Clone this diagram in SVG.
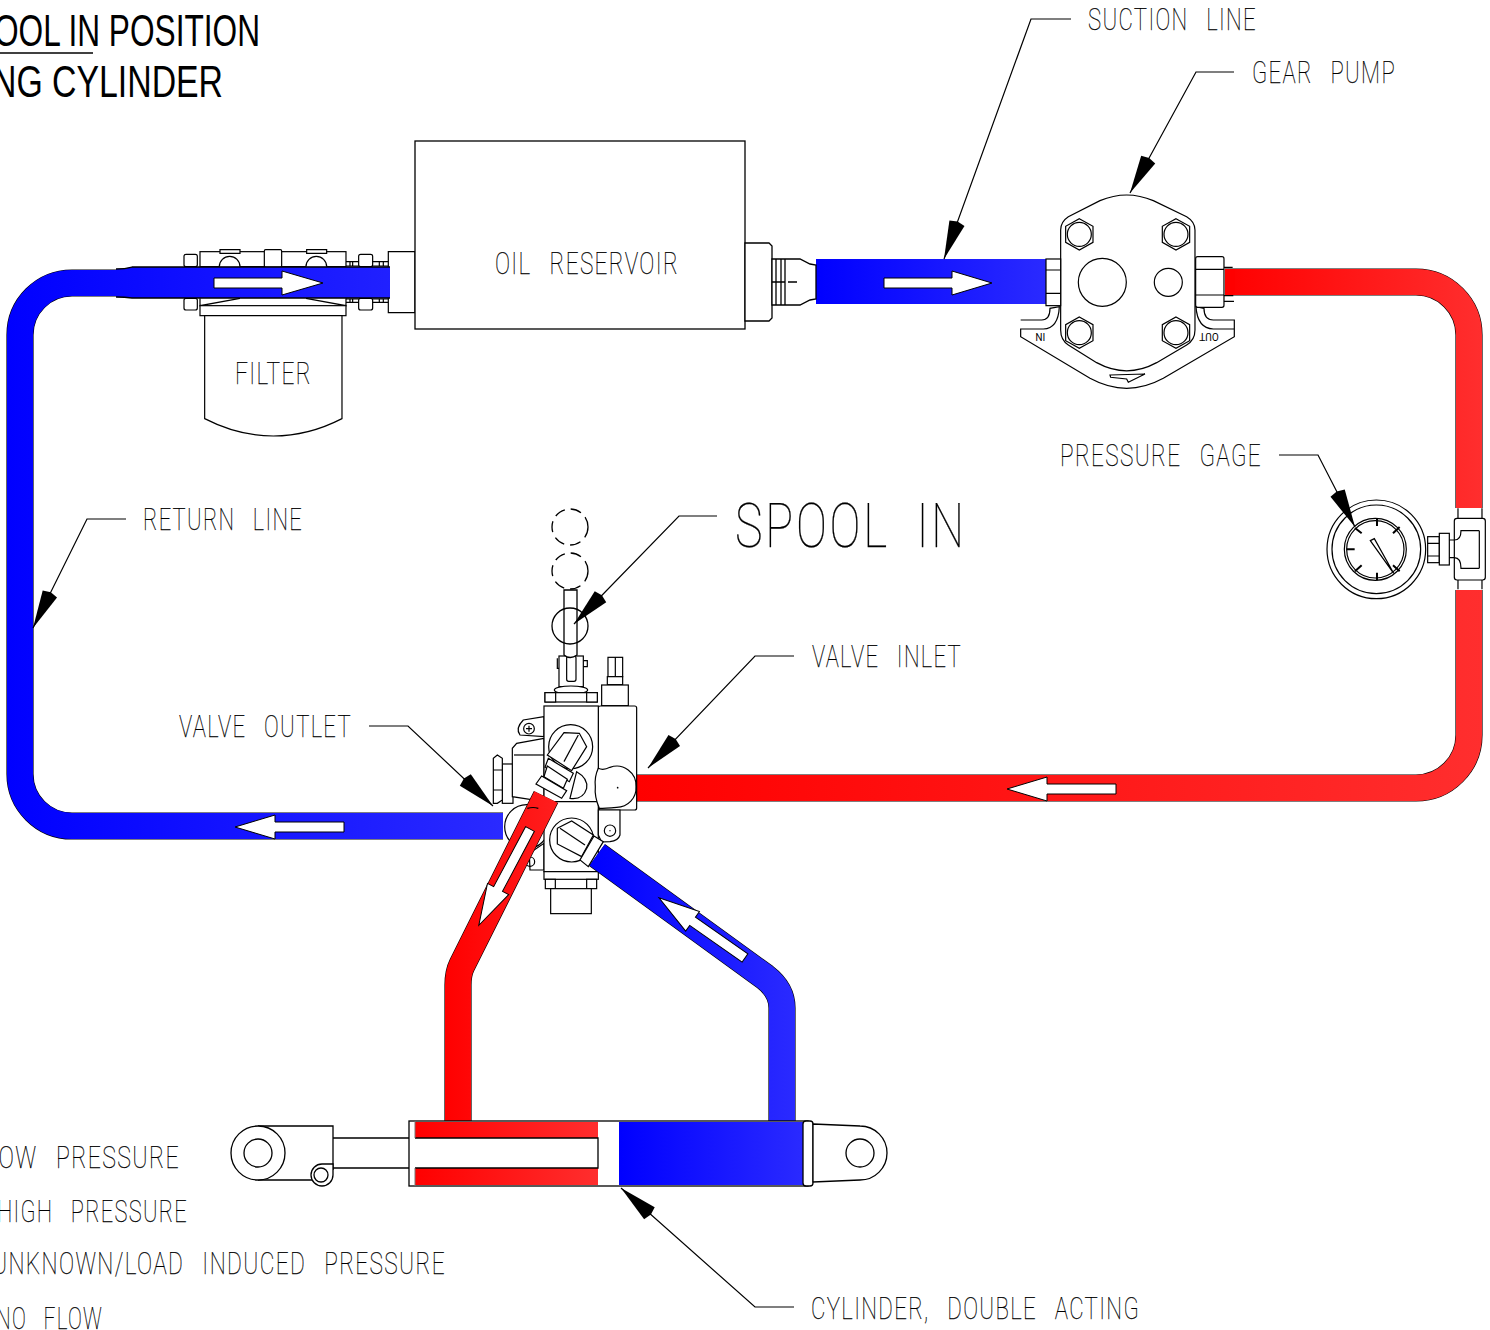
<svg xmlns="http://www.w3.org/2000/svg" width="1490" height="1330" viewBox="0 0 1490 1330">
<style>
text{font-family:"Roboto","Liberation Sans",sans-serif;font-weight:100;fill:#000;stroke:#000;stroke-width:.25}
.l{font-size:31px;letter-spacing:.06em;word-spacing:.5em}
.t{font-family:"Liberation Sans",sans-serif;font-weight:400;font-size:44px;stroke:none}
.s{fill:none;stroke:#000;stroke-width:1.3}
.w{fill:#fff;stroke:#000;stroke-width:1.3}
.z .s,.z .w{stroke-width:3.6}
.lead{fill:none;stroke:#000;stroke-width:1.2;marker-end:url(#ah)}
.fl{fill:#fff;stroke:#000;stroke-width:1}
.po{fill:none;stroke:#000;stroke-width:27.2}
.pb{fill:none;stroke-width:26}
</style>
<defs>
<marker id="ah" markerUnits="userSpaceOnUse" markerWidth="46" markerHeight="20" refX="40" refY="8" orient="auto" overflow="visible"><path d="M2 0L40 8L2 16L0 8Z" fill="#000"/></marker>
<linearGradient id="bR" gradientUnits="userSpaceOnUse" x1="7" y1="0" x2="503" y2="0"><stop offset="0" stop-color="#00f"/><stop offset="1" stop-color="#2a2aff"/></linearGradient>
<linearGradient id="bS" gradientUnits="userSpaceOnUse" x1="816" y1="0" x2="1046" y2="0"><stop offset="0" stop-color="#00f"/><stop offset="1" stop-color="#2a2aff"/></linearGradient>
<linearGradient id="bC" gradientUnits="userSpaceOnUse" x1="619" y1="0" x2="803" y2="0"><stop offset="0" stop-color="#00f"/><stop offset="1" stop-color="#2a2aff"/></linearGradient>
<linearGradient id="bD" gradientUnits="userSpaceOnUse" x1="590" y1="0" x2="795" y2="0"><stop offset="0" stop-color="#00f"/><stop offset="1" stop-color="#2a2aff"/></linearGradient>
<linearGradient id="rT" gradientUnits="userSpaceOnUse" x1="1225" y1="0" x2="1482" y2="0"><stop offset="0" stop-color="#f00"/><stop offset="1" stop-color="#ff2e2e"/></linearGradient>
<linearGradient id="rB" gradientUnits="userSpaceOnUse" x1="637" y1="0" x2="1482" y2="0"><stop offset="0" stop-color="#f00"/><stop offset="1" stop-color="#ff2e2e"/></linearGradient>
<linearGradient id="rC" gradientUnits="userSpaceOnUse" x1="415" y1="0" x2="598" y2="0"><stop offset="0" stop-color="#f00"/><stop offset="1" stop-color="#ff2e2e"/></linearGradient>
<linearGradient id="rD" gradientUnits="userSpaceOnUse" x1="445" y1="0" x2="560" y2="0"><stop offset="0" stop-color="#f00"/><stop offset="1" stop-color="#ff1f1f"/></linearGradient>
<polygon id="hex" points="0,-47 41,-24 41,24 0,47 -41,24 -41,-24"/>
</defs>

<g id="title">
<text class="t" x="-6" y="46" textLength="266" lengthAdjust="spacingAndGlyphs">OOL IN POSITION</text>
<text class="t" x="-8" y="97" textLength="231" lengthAdjust="spacingAndGlyphs">NG CYLINDER</text>
<line class="s" x1="0" y1="53" x2="93" y2="53"/>
</g>

<g id="pipes">
<path class="po" d="M503 826H72A52 52 0 0 1 20 774V335A52 52 0 0 1 72 283H120"/>
<path class="pb" stroke="url(#bR)" d="M503 826H72A52 52 0 0 1 20 774V335A52 52 0 0 1 72 283H122"/>
<rect x="816" y="259" width="230" height="45" fill="url(#bS)"/>
<path class="po" d="M1225 282H1416A53 53 0 0 1 1469 335V508"/>
<path class="pb" stroke="url(#rT)" d="M1225 282H1416A53 53 0 0 1 1469 335V508"/>
<path class="po" d="M1469 590V735A53 53 0 0 1 1416 788H637"/>
<path class="pb" stroke="url(#rB)" d="M1469 590V735A53 53 0 0 1 1416 788H637"/>
</g>

<g id="filter" class="z" transform="translate(170 235) scale(.3333)">
<rect class="w" x="42" y="58" width="40" height="37" rx="6"/>
<rect class="w" x="42" y="190" width="40" height="35" rx="6"/>
<rect class="w" x="90" y="50" width="438" height="45"/>
<rect class="w" x="283" y="44" width="52" height="52" rx="4"/>
<path class="w" d="M148 95A31 31 0 0 1 210 95"/>
<path class="w" d="M408 95A31 31 0 0 1 470 95"/>
<path class="w" d="M150 44H210V55H150Z"/>
<path class="w" d="M410 44H470V55H410Z"/>
<rect class="w" x="566" y="58" width="42" height="37" rx="6"/>
<rect class="w" x="566" y="190" width="42" height="35" rx="6"/>
<path class="s" d="M528 80H566M528 93H566M608 80H655M608 93H655M528 192H566M528 202H566M608 192H655M608 202H655M540 80V93M548 80V93M628 80V93M640 80V93M540 192V202M548 192V202M628 192V202M640 192V202"/>
<path class="s" d="M90 190V212L210 190M528 190V212L408 190"/>
<rect class="w" x="90" y="212" width="438" height="30"/>
<path class="w" d="M104 242H516V551Q415 603 310 603T104 551Z"/>
<path class="w" d="M655 50H735V233H655Z"/>
</g>
<path d="M116 269Q125 269 132 267H390V298H132Q125 297 116 297Z" fill="url(#bR)"/>
<path class="s" d="M116 269Q125 269 132 267H390M390 298H132Q125 297 116 297" stroke-width=".9"/>

<g id="filter-label"><text class="l" x="235" y="384" textLength="77" lengthAdjust="spacingAndGlyphs">FILTER</text></g>

<g id="reservoir">
<rect class="w" x="415" y="141" width="330" height="188"/>
<path class="w" d="M745 243H769L772 246V318L769 321H745Z"/>
<path class="w" d="M772 259H800L810 264L816 265V299L810 300L800 305H772Z"/>
<path class="s" d="M776 259V305M781 259V305M785 259V305M772 282H785M788 282H797"/>
<text class="l" x="495" y="274" textLength="184" lengthAdjust="spacingAndGlyphs">OIL RESERVOIR</text>
</g>

<g id="gear-pump" class="z" transform="translate(1000 180) scale(.3333)">
<path class="w" d="M62 420H125Q150 420 150 385L178 380Q175 445 130 447H62V470L270 595Q380 655 490 595L703 470V447H640Q592 445 588 380L612 385Q612 420 640 420H703V470"/>
<path class="w" d="M182 150Q182 125 205 110L300 62Q380 28 460 62L560 110Q585 125 585 150V450Q585 480 560 495L470 548Q380 597 290 548L205 495Q182 480 182 450Z"/>
<path class="w" d="M330 585L435 582L385 607L380 597L332 592Z"/>
<rect class="w" x="138" y="237" width="44" height="140"/>
<path class="s" d="M138 270H182M138 340H182"/>
<rect class="w" x="587" y="230" width="85" height="152" rx="6"/>
<path class="s" d="M587 268H672M587 345H672M672 262H698M672 347H700M672 364H702"/>
<g class="s"><use href="#hex" transform="translate(238 163)"/><circle cx="238" cy="163" r="36"/></g>
<g class="s"><use href="#hex" transform="translate(528 163)"/><circle cx="528" cy="163" r="36"/></g>
<g class="s"><use href="#hex" transform="translate(238 458)"/><circle cx="238" cy="458" r="36"/></g>
<g class="s"><use href="#hex" transform="translate(528 458)"/><circle cx="528" cy="458" r="36"/></g>
<circle class="s" cx="307" cy="307" r="72"/>
<circle class="s" cx="505" cy="307" r="42"/>
<text transform="translate(136 460) rotate(180)" style="font-size:30px;font-weight:400;stroke:none">IN</text>
<text transform="translate(656 460) rotate(180)" style="font-size:30px;font-weight:400;stroke:none">OUT</text>
</g>
<rect x="1225" y="269" width="10" height="26" fill="#f00"/>

<g id="pressure-gage" class="z" transform="translate(1311 490) scale(.3333)">
<circle class="s" cx="196" cy="178" r="148"/>
<circle class="s" cx="196" cy="178" r="133"/>
<circle class="s" cx="193" cy="178" r="93"/>
<circle class="s" cx="193" cy="178" r="86"/>
<path class="s" d="M198 85V108M198 248V271M107 178H131M132 114L152 130M266 111L246 130M132 244L152 226M266 244L246 226" style="stroke-width:6"/>
<path class="w" d="M178 152L190 146L248 250Z"/>
<rect class="w" x="350" y="140" width="35" height="78"/>
<path class="s" d="M350 160H385M350 198H385"/>
<rect class="w" x="385" y="130" width="30" height="95"/>
<path class="s" d="M441 55V85M513 55V85M441 270V298M513 270V298"/>
<rect class="w" x="430" y="85" width="93" height="185" rx="8"/>
<path class="s" d="M415 150H430Q450 150 450 122H505M415 203H430Q450 203 450 235H505M505 122V235" />
</g>

<g id="valve" class="z" transform="translate(470 640) scale(.3333)">
<circle class="w" cx="170" cy="560" r="66"/>
<path class="w" d="M178 640L222 610V690H180Z"/>
<circle class="s" cx="180" cy="665" r="14"/>
<rect class="w" x="97" y="372" width="32" height="118"/>
<path class="w" d="M82 345L97 355V480L82 490H70V355Z"/>
<path class="s" d="M70 390H97M70 450H97"/>
<path class="w" d="M222 230L160 240Q135 265 150 285L222 290Z"/>
<circle class="s" cx="177" cy="266" r="16"/><path class="s" d="M177 257V275M168 266H186"/>
<path class="w" d="M222 295L140 310L127 325V470L222 485Z"/>
<path class="s" d="M132 345H222"/>
<rect class="w" x="267" y="48" width="73" height="92"/>
<rect class="w" x="290" y="48" width="28" height="76" rx="6"/>
<path class="s" d="M262 55V85H267M340 62H352V80H340"/>
<ellipse class="w" cx="303" cy="150" rx="50" ry="12"/>
<rect class="w" x="225" y="158" width="157" height="28"/>
<rect class="w" x="225" y="158" width="32" height="28"/>
<rect class="w" x="350" y="158" width="32" height="28"/>
<rect class="w" x="414" y="52" width="44" height="58"/>
<path class="s" d="M436 52V110"/>
<rect class="w" x="412" y="110" width="46" height="24"/>
<rect class="w" x="395" y="135" width="80" height="62"/>
<rect class="w" x="385" y="198" width="115" height="312" rx="6"/>
<rect class="w" x="222" y="198" width="163" height="497"/>
<path class="s" d="M222 485H385"/>
<path class="w" d="M385 385Q400 392 420 382A58 58 0 0 1 498 440A58 58 0 0 1 440 502Q405 505 388 505Q373 470 376 440Q373 410 385 385Z"/>
<circle cx="443" cy="443" r="2.5" fill="#000"/>
<path class="w" d="M385 510H450V585Q445 602 420 605L395 606L385 585Z"/>
<circle class="w" cx="420" cy="572" r="17"/>
<circle cx="420" cy="572" r="2" fill="#000"/>
<circle class="w" cx="302" cy="320" r="66"/>
<path class="w" d="M320 395Q355 415 350 445Q340 480 300 475Z"/>
<circle class="w" cx="305" cy="600" r="66"/>
<rect class="w" x="222" y="695" width="163" height="23"/>
<rect class="w" x="226" y="718" width="30" height="28"/>
<rect class="w" x="350" y="718" width="30" height="28"/>
<rect class="w" x="242" y="746" width="122" height="75"/>
</g>

<g id="lines">
<path class="po" d="M546 797L462 965Q458 973 458 985V1121"/>
<path class="pb" stroke="url(#rD)" d="M546 797L462 965Q458 973 458 985V1121"/>
<path class="po" d="M597 855L765 977Q782 990 782 1008V1121"/>
<path class="pb" stroke="url(#bD)" d="M597 855L765 977Q782 990 782 1008V1121"/>
</g>

<g id="valve-fittings" class="z" transform="translate(470 640) scale(.3333)">
<path class="w" d="M282 278L328 280L350 320L305 392L232 345Z"/>
<path class="s" d="M325 285L282 365"/>
<path class="w" d="M235 355L310 400L298 425L225 382Z"/>
<path class="w" d="M232 378L292 418L280 445L222 410Z"/>
<path class="w" d="M215 408L290 452L275 475L198 432Z"/>
<path class="s" d="M172 505Q190 500 205 505"/>
<path class="w" d="M262 565L305 543L370 585L335 650L262 612Z"/>
<path class="s" d="M270 565L345 615"/>
<path class="w" d="M372 588L400 605L355 680L330 660Z"/>
</g>

<g id="cylinder">
<rect class="w" x="409" y="1121" width="399" height="65"/>
<rect x="415" y="1122" width="183" height="63" fill="url(#rC)"/>
<rect x="415" y="1138" width="183" height="30" fill="#fff"/>
<rect x="619" y="1122" width="184" height="63" fill="url(#bC)"/>
<path class="s" d="M415 1138H598V1168H415"/>
<path d="M415 1121V1138M415 1168V1186" fill="none" stroke="#777" stroke-width="1"/>
<rect class="w" x="803" y="1121" width="10" height="65" rx="3"/>
<path class="w" d="M813 1124L860 1126A27 27 0 0 1 860 1180L813 1182Z"/>
<circle class="s" cx="860" cy="1153" r="14"/>
<path class="s" d="M333 1138H409M333 1168H409"/>
<path d="M258 1126H333V1181H258Z" fill="#fff"/>
<path class="s" d="M258 1126H333V1170M258 1180H312"/>
<circle class="w" cx="258" cy="1153" r="27"/>
<circle class="s" cx="258" cy="1153" r="14"/>
<path class="w" d="M333 1164H322A11 11 0 1 0 333 1175Z"/>
<circle class="s" cx="321" cy="1175" r="7"/>
</g>

<g id="flow-arrows">
<path class="fl" d="M214 278H282V271L323 283L282 295V288H214Z"/>
<path class="fl" d="M884 278H952V271L992 283L952 295V288H884Z"/>
<path class="fl" d="M1116 784H1047V777L1007 789L1047 801V794H1116Z"/>
<path class="fl" d="M344 822H275V815L235 827L275 839V832H344Z"/>
<path class="fl" d="M0 -5H68V-12L109 0L68 12V5H0Z" transform="translate(530 829) rotate(118)"/>
<path class="fl" d="M0 -5H64V-12L105 0L64 12V5H0Z" transform="translate(745 958) rotate(215)"/>
</g>

<g id="spool">
<path class="w" d="M564 590H577V655Q570 660 564 655Z"/>
<circle class="s" cx="570" cy="527" r="18" stroke-dasharray="11 6"/>
<circle class="s" cx="570" cy="571" r="18" stroke-dasharray="11 6"/>
<circle class="s" cx="570" cy="626" r="18"/>
</g>

<g id="connectors">
<path class="lead" d="M1071 19H1031L944 259"/>
<path class="lead" d="M1234 72H1196L1130 193"/>
<path class="lead" d="M1279 455H1318L1355 527"/>
<path class="lead" d="M126 519H87L33 628"/>
<path class="lead" d="M717 516H679L574 624"/>
<path class="lead" d="M794 656H755L648 768"/>
<path class="lead" d="M369 726H408L493 806"/>
<path class="lead" d="M794 1307H755L621 1188"/>
</g>

<g id="labels">
<text class="l" x="1088" y="30" textLength="169" lengthAdjust="spacingAndGlyphs">SUCTION LINE</text>
<text class="l" x="1252" y="83" textLength="144" lengthAdjust="spacingAndGlyphs">GEAR PUMP</text>
<text class="l" x="1060" y="466" textLength="202" lengthAdjust="spacingAndGlyphs">PRESSURE GAGE</text>
<text class="l" x="143" y="530" textLength="160" lengthAdjust="spacingAndGlyphs">RETURN LINE</text>
<text class="l" x="735" y="547" textLength="232" lengthAdjust="spacingAndGlyphs" style="font-size:61px;word-spacing:.27em">SPOOL IN</text>
<text class="l" x="812" y="667" textLength="150" lengthAdjust="spacingAndGlyphs">VALVE INLET</text>
<text class="l" x="179" y="737" textLength="173" lengthAdjust="spacingAndGlyphs">VALVE OUTLET</text>
<text class="l" x="811" y="1319" textLength="329" lengthAdjust="spacingAndGlyphs">CYLINDER, DOUBLE ACTING</text>
<text class="l" x="-14" y="1168" textLength="194" lengthAdjust="spacingAndGlyphs">LOW PRESSURE</text>
<text class="l" x="-3" y="1222" textLength="191" lengthAdjust="spacingAndGlyphs">HIGH PRESSURE</text>
<text class="l" x="-8" y="1274" textLength="454" lengthAdjust="spacingAndGlyphs">UNKNOWN/LOAD INDUCED PRESSURE</text>
<text class="l" x="-4" y="1329" textLength="107" lengthAdjust="spacingAndGlyphs">NO FLOW</text>
</g>
</svg>
